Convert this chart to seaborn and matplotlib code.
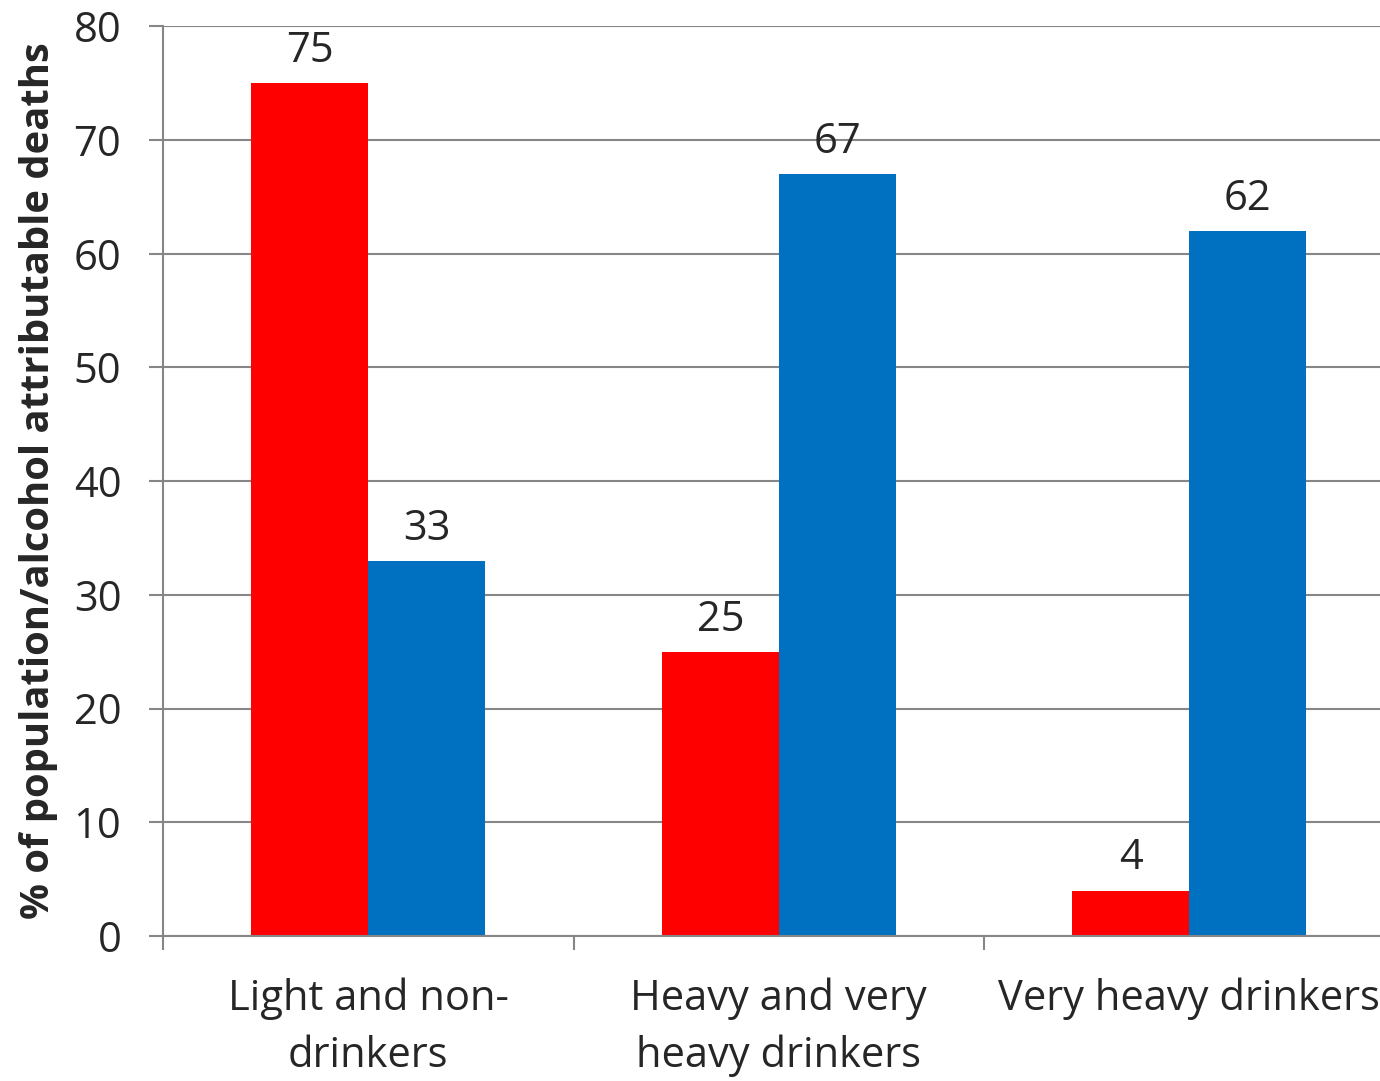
import pandas as pd
import matplotlib.pyplot as plt
import seaborn as sns

# Chart data
categories = ["Light and non-\ndrinkers", "Heavy and very\nheavy drinkers", "Very heavy drinkers"]
series_names = ["Population", "Alcohol attributable deaths"]
population = [75, 25, 4]
alcohol_deaths = [33, 67, 62]
series_colors = ["#FF0000", "#0070C0"]
y_ticks = [0, 10, 20, 30, 40, 50, 60, 70, 80]

# Long format table for seaborn
df = pd.DataFrame({
    "category": categories * 2,
    "series": [series_names[0]] * 3 + [series_names[1]] * 3,
    "value": population + alcohol_deaths,
})

sns.set_style("white")
plt.rcParams["font.family"] = ["Open Sans", "DejaVu Sans"]

fig = plt.figure(figsize=(13.8, 10.81), dpi=100)
ax = fig.add_axes([163 / 1380, 145 / 1081, 1231.5 / 1380, 910 / 1081])

sns.barplot(data=df, x="category", y="value", hue="series", order=categories,
            hue_order=series_names, palette=series_colors, width=0.57, gap=0,
            saturation=1, edgecolor="none", linewidth=0, legend=False, ax=ax)

# Value labels above bars
for container in ax.containers:
    ax.bar_label(container, fmt="%d", fontsize=30, padding=8)

grid_color = "#868686"
ax.set_ylim(0, 80)
ax.set_xlim(-0.5, 2.5)
ax.set_yticks(y_ticks)
ax.yaxis.grid(True, color=grid_color, linewidth=1.5)
ax.set_axisbelow(True)

# Category boundary tick marks, labels at centers
ax.set_xticks([-0.5, 0.5, 1.5, 2.5], minor=True)
ax.tick_params(axis="x", which="minor", length=10, width=1.5, color=grid_color, bottom=True)
ax.tick_params(axis="x", which="major", length=0, pad=30, labelsize=30)
ax.tick_params(axis="y", which="major", length=10, width=1.5, color=grid_color, left=True,
               pad=20, labelsize=30)
for lbl in ax.get_xticklabels():
    lbl.set_linespacing(1.45)

for side in ["top", "right"]:
    ax.spines[side].set_visible(False)
for side in ["left", "bottom"]:
    ax.spines[side].set_color(grid_color)
    ax.spines[side].set_linewidth(1.5)

ax.set_xlabel("")
ax.set_ylabel("% of population/alcohol attributable deaths", fontsize=28.8,
              fontweight="bold")
ax.yaxis.set_label_coords(-0.085, 0.5)

fig.savefig("out.png", dpi=100)
